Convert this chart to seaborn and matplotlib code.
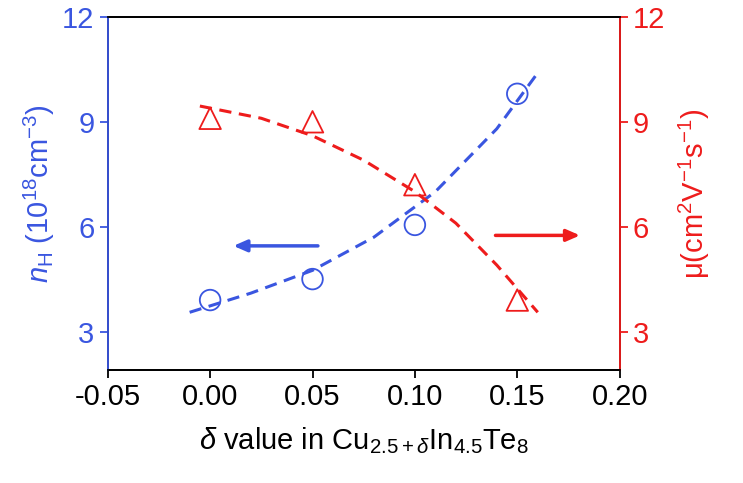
import matplotlib
matplotlib.use("Agg")
import matplotlib.pyplot as plt
import seaborn as sns

plt.rcParams["font.family"] = "Liberation Sans"
plt.rcParams["mathtext.fontset"] = "custom"
plt.rcParams["mathtext.rm"] = "Liberation Sans"
plt.rcParams["mathtext.it"] = "Liberation Sans:italic"

blue = "#3a56e0"
red = "#ee1c1c"

# measured points
delta = [0.0, 0.05, 0.10, 0.15]
n_h = [3.9, 4.5, 6.05, 9.8]
mu = [9.1, 9.0, 7.2, 3.9]

# dashed guide curves
fit_n_x = [-0.01, 0.02, 0.05, 0.08, 0.11, 0.14, 0.16]
fit_n_y = [3.55, 4.1, 4.75, 5.7, 7.0, 8.8, 10.4]
fit_mu_x = [-0.005, 0.025, 0.05, 0.075, 0.10, 0.12, 0.14, 0.16]
fit_mu_y = [9.45, 9.1, 8.6, 7.9, 7.0, 6.1, 4.9, 3.55]

fig = plt.figure(figsize=(7.43, 4.83), dpi=100)
ax = fig.add_axes([0.145, 0.234, 0.689, 0.731])
ax2 = ax.twinx()

sns.lineplot(x=fit_n_x, y=fit_n_y, ax=ax, color=blue, lw=2.2, ls=(0, (4, 2.5)))
sns.scatterplot(x=delta, y=n_h, ax=ax, marker="o", s=220, facecolor="none",
                edgecolor=blue, linewidth=1.3, zorder=5)
sns.lineplot(x=fit_mu_x, y=fit_mu_y, ax=ax2, color=red, lw=2.2, ls=(0, (4, 2.5)))
sns.scatterplot(x=delta, y=mu, ax=ax2, marker="^", s=240, facecolor="none",
                edgecolor=red, linewidth=1.3, zorder=5)

ax.annotate("", xy=(0.010, 5.45), xytext=(0.054, 5.45),
            arrowprops=dict(arrowstyle="-|>,head_length=0.8,head_width=0.35", color=blue, lw=2.5))
ax2.annotate("", xy=(0.182, 5.75), xytext=(0.138, 5.75),
             arrowprops=dict(arrowstyle="-|>,head_length=0.8,head_width=0.35", color=red, lw=2.5))

ax.set_xlim(-0.05, 0.20)
ax.set_xticks([-0.05, 0.0, 0.05, 0.10, 0.15, 0.20])
ax.set_xticklabels(["-0.05", "0.00", "0.05", "0.10", "0.15", "0.20"])
for a in (ax, ax2):
    a.set_ylim(1.9, 12)
    a.set_yticks([3, 6, 9, 12])
    a.tick_params(labelsize=21, width=1.3, length=6, direction="out")
    for s in a.spines.values():
        s.set_linewidth(1.3)
ax.tick_params(axis="y", colors=blue)
ax2.tick_params(axis="y", colors=red)
ax2.spines["left"].set_color(blue)
ax2.spines["right"].set_color(red)

ax.set_xlabel(r"$\mathit{\delta}$ value in Cu$_{2.5+\mathit{\delta}}$In$_{4.5}$Te$_8$",
              fontsize=21, labelpad=10)
ax.set_ylabel(r"$\mathit{n}_{\rm H}$ (10$^{18}$cm$^{-3}$)", fontsize=21, color=blue, labelpad=4)
ax2.set_ylabel(r"μ(cm$^2$V$^{-1}$s$^{-1}$)", fontsize=21, color=red, labelpad=8)

fig.savefig("out.png", dpi=100)
